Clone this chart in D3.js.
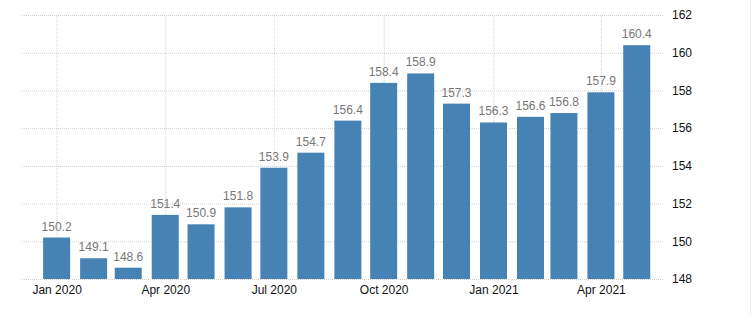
<!DOCTYPE html>
<html>
<head>
<meta charset="utf-8">
<script src="https://cdn.jsdelivr.net/npm/d3@7"></script>
<style>
  body { margin: 0; background: #fff; }
  svg { display: block; font-family: "Liberation Sans", Arial, sans-serif; }
</style>
</head>
<body>
<svg id="chart" width="754" height="315"></svg>
<script>
// monthly index values, Jan 2020 .. May 2021
const months = ['2020-01', '2020-02', '2020-03', '2020-04', '2020-05', '2020-06',
    '2020-07', '2020-08', '2020-09', '2020-10', '2020-11', '2020-12',
    '2021-01', '2021-02', '2021-03', '2021-04', '2021-05'];
const values = [150.2, 149.1, 148.6, 151.4, 150.9, 151.8, 153.9, 154.7, 156.4,
    158.4, 158.9, 157.3, 156.3, 156.6, 156.8, 157.9, 160.4];
const xTicks = ['2020-01', '2020-04', '2020-07', '2020-10', '2021-01', '2021-04'];
const yTicks = [148, 150, 152, 154, 156, 158, 160, 162];

const parse = d3.timeParse('%Y-%m');
const data = months.map((m, i) => ({date: parse(m), value: values[i]}));

const svg = d3.select('#chart');
const margin = {left: 22, right: 663, top: 15, bottom: 279};

const x = d3.scaleTime()
    .domain([new Date(2019, 11, 3), new Date(2021, 4, 23)])
    .range([margin.left, margin.right]);
const y = d3.scaleLinear().domain([148, 162]).range([margin.bottom, margin.top]);
const barW = 27;

// frame line on the right
svg.append('line')
    .attr('x1', 750.5).attr('x2', 750.5).attr('y1', 0).attr('y2', 315)
    .attr('stroke', '#ececec');

// horizontal grid + right axis labels
const yAxis = svg.append('g')
    .attr('transform', `translate(${margin.right},0)`)
    .call(d3.axisRight(y).tickValues(yTicks)
        .tickSize(-(margin.right - margin.left)).tickPadding(9));
yAxis.select('.domain').remove();
yAxis.selectAll('line').attr('stroke', '#d0d0d0').attr('stroke-dasharray', '1,1');
yAxis.selectAll('text').attr('fill', '#111').attr('font-size', 12);

// vertical grid + bottom labels
const xAxis = svg.append('g')
    .attr('transform', `translate(0,${margin.bottom})`)
    .call(d3.axisBottom(x).tickValues(xTicks.map(parse))
        .tickFormat(d3.timeFormat('%b %Y'))
        .tickSize(-(margin.bottom - margin.top)).tickPadding(6));
xAxis.select('.domain').remove();
xAxis.selectAll('line').attr('stroke', '#d0d0d0').attr('stroke-dasharray', '1,1');
xAxis.selectAll('text').attr('fill', '#111').attr('font-size', 12);

svg.selectAll('.bar')
    .data(data)
    .enter().append('rect')
    .attr('class', 'bar')
    .attr('x', d => x(d.date) - barW / 2)
    .attr('y', d => y(d.value))
    .attr('width', barW)
    .attr('height', d => margin.bottom - y(d.value))
    .attr('fill', '#4682b4');

svg.selectAll('.val')
    .data(data)
    .enter().append('text')
    .attr('class', 'val')
    .attr('x', d => x(d.date))
    .attr('y', d => y(d.value) - 7)
    .attr('text-anchor', 'middle')
    .attr('font-size', 12)
    .attr('fill', '#777')
    .text(d => d.value.toFixed(1));
</script>
</body>
</html>
